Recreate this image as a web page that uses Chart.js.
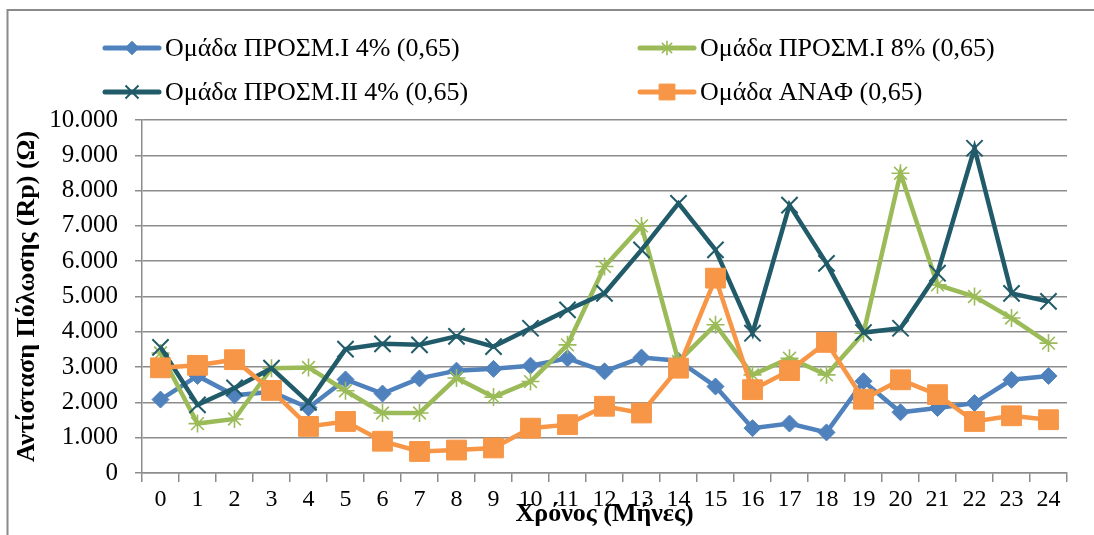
<!DOCTYPE html>
<html>
<head>
<meta charset="utf-8">
<script src="https://cdn.jsdelivr.net/npm/chart.js@4/dist/chart.umd.min.js"></script>
<style>
  html, body { margin: 0; padding: 0; background: #fff; overflow: hidden; }
  .Rp-Chart { position: relative; width: 1094px; height: 535px; }
</style>
</head>
<body>
<div class="Rp-Chart"><canvas id="rpChart"></canvas></div>
<script>
// months of exposure
const months = ['0', '1', '2', '3', '4', '5', '6', '7', '8', '9', '10', '11', '12',
  '13', '14', '15', '16', '17', '18', '19', '20', '21', '22', '23', '24'];

const seriesNames = [
  'Ομάδα ΠΡΟΣΜ.Ι 4% (0,65)',
  'Ομάδα ΠΡΟΣΜ.Ι 8% (0,65)',
  'Ομάδα ΠΡΟΣΜ.ΙΙ 4% (0,65)',
  'Ομάδα ΑΝΑΦ (0,65)'
];

// polarization resistance Rp (Ω)
const prosmI4 = [2080, 2750, 2200, 2300, 1850, 2650, 2250, 2680, 2900, 2950, 3040, 3250, 2880,
  3270, 3180, 2450, 1270, 1400, 1150, 2600, 1720, 1840, 1980, 2640, 2750];
const prosmI8 = [3400, 1400, 1530, 2970, 2990, 2330, 1700, 1700, 2690, 2150, 2590, 3630, 5850,
  7000, 3160, 4200, 2780, 3250, 2780, 3960, 8490, 5330, 5000, 4390, 3680];
const prosmII4 = [3560, 1930, 2410, 2970, 2000, 3510, 3660, 3630, 3870, 3580, 4100, 4620, 5090,
  6320, 7640, 6320, 3960, 7590, 5940, 3980, 4100, 5660, 9200, 5090, 4860];
const anaf = [2980, 3050, 3210, 2340, 1320, 1460, 900, 610, 650, 710, 1270, 1370, 1890,
  1700, 2970, 5520, 2360, 2900, 3700, 2090, 2640, 2220, 1460, 1620, 1510];

const yTicks = [0, 1000, 2000, 3000, 4000, 5000, 6000, 7000, 8000, 9000, 10000];

const serif = '"Liberation Serif", "Times New Roman", serif';
const gridGray = '#8c8c8c';

const styles = [
  { color: '#4F81BD', pointStyle: 'rectRot', radius: 8.5, pointBorder: 1 },
  { color: '#9BBB59', pointStyle: 'star', radius: 9, pointBorder: 1.6 },
  { color: '#215B69', pointStyle: 'crossRot', radius: 11.5, pointBorder: 2 },
  { color: '#F79646', pointStyle: 'rect', radius: 14, pointBorder: 1 }
];

const makeDataset = (i, values) => ({
  label: seriesNames[i],
  data: values,
  borderColor: styles[i].color,
  backgroundColor: styles[i].color,
  borderWidth: 4.5,
  tension: 0,
  pointStyle: styles[i].pointStyle,
  pointRadius: styles[i].radius,
  pointHoverRadius: styles[i].radius,
  pointBackgroundColor: styles[i].color,
  pointBorderColor: styles[i].color,
  pointBorderWidth: styles[i].pointBorder,
  order: 3 - i,
  clip: false
});

// outer frame of the chart object
const frame = {
  id: 'frame',
  beforeDraw(chart) {
    const ctx = chart.ctx;
    ctx.save();
    ctx.strokeStyle = '#8a8a8a';
    ctx.lineWidth = 2;
    ctx.strokeRect(7.5, 10, 3000, 3000);
    ctx.restore();
  }
};

// two-column legend above the plot
const gridLegend = {
  id: 'gridLegend',
  afterDraw(chart, args, opts) {
    const ctx = chart.ctx;
    chart.data.datasets.forEach((ds, i) => {
      const col = i % 2, row = Math.floor(i / 2);
      const x = opts.cols[col], y = opts.rows[row];
      ctx.save();
      ctx.strokeStyle = ds.borderColor;
      ctx.lineWidth = 5;
      ctx.lineCap = 'round';
      ctx.beginPath();
      ctx.moveTo(x + 2, y);
      ctx.lineTo(x + opts.sample - 2, y);
      ctx.stroke();
      ctx.fillStyle = ds.borderColor;
      ctx.lineWidth = ds.pointBorderWidth;
      ctx.lineCap = 'butt';
      Chart.helpers.drawPoint(ctx, {
        pointStyle: ds.pointStyle,
        radius: ds.pointRadius * 0.8,
        rotation: 0,
        borderWidth: ds.pointBorderWidth
      }, x + opts.sample / 2, y);
      ctx.fillStyle = '#000';
      ctx.font = opts.font;
      ctx.textBaseline = 'middle';
      ctx.textAlign = 'left';
      ctx.fillText(ds.label, x + opts.sample + 4, y + 1);
      ctx.restore();
    });
  }
};

new Chart(document.getElementById('rpChart'), {
  type: 'line',
  data: {
    labels: months,
    datasets: [
      makeDataset(0, prosmI4),
      makeDataset(1, prosmI8),
      makeDataset(2, prosmII4),
      makeDataset(3, anaf)
    ]
  },
  plugins: [frame, gridLegend],
  options: {
    responsive: true,
    maintainAspectRatio: false,
    animation: false,
    layout: { padding: { top: 120, right: 27, left: 0, bottom: 0 } },
    plugins: {
      legend: { display: false },
      tooltip: { enabled: false },
      gridLegend: {
        cols: [103, 638],
        rows: [48, 92],
        sample: 58,
        font: '26px ' + serif
      }
    },
    scales: {
      x: {
        offset: true,
        afterFit: s => { s.height = 62; },
        grid: {
          offset: true,
          drawOnChartArea: false,
          tickLength: 9,
          color: gridGray,
          lineWidth: 1.5
        },
        border: { color: gridGray, width: 1.5 },
        ticks: {
          color: '#000',
          padding: 3,
          maxRotation: 0,
          autoSkip: false,
          font: { family: serif, size: 24 }
        },
        title: {
          display: true,
          text: 'Χρόνος (Μήνες)',
          color: '#000',
          font: { family: serif, size: 26, weight: 'bold' },
          padding: { top: 0, bottom: 5 }
        }
      },
      y: {
        min: 0,
        max: 10000,
        afterFit: s => { s.width = 142; },
        afterBuildTicks: s => { s.ticks = yTicks.map(v => ({ value: v })); },
        grid: {
          color: gridGray,
          lineWidth: 1.5,
          tickLength: 7
        },
        border: { color: gridGray, width: 1.5 },
        ticks: {
          color: '#000',
          padding: 17,
          font: { family: serif, size: 25 },
          callback: v => String(v).replace(/\B(?=(\d{3})+(?!\d))/g, '.')
        },
        title: {
          display: true,
          text: 'Αντίσταση Πόλωσης (Rp) (Ω)',
          color: '#000',
          font: { family: serif, size: 26, weight: 'bold' },
          padding: { top: 12, bottom: 0 }
        }
      }
    }
  }
});
</script>
</body>
</html>
